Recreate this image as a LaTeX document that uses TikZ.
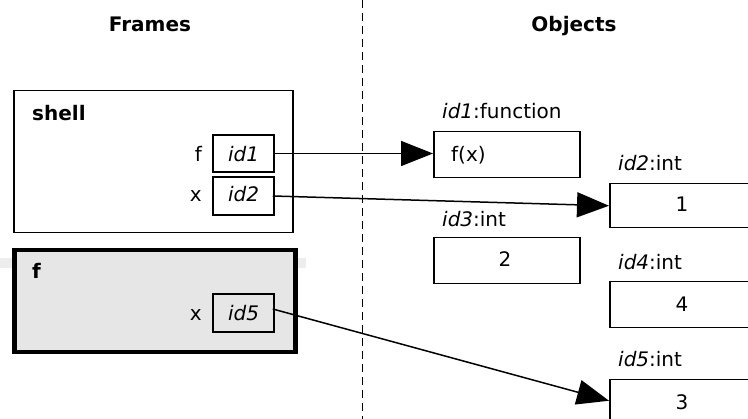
\documentclass[tikz,border=0pt]{standalone}
\usepackage{fontspec}
\setmainfont{DejaVu Sans}
\usetikzlibrary{arrows.meta}
\definecolor{framegray}{HTML}{E5E6E5}
\tikzset{
  txt/.style={inner sep=0pt, font=\fontsize{20}{24}\selectfont},
  hdr/.style={inner sep=0pt, font=\fontsize{20}{24}\selectfont\bfseries},
  refbox/.style={draw, line width=1.5pt, minimum width=61pt, minimum height=37pt, inner sep=0pt, font=\fontsize{20}{24}\selectfont\itshape},
  objbox/.style={draw, line width=1.5pt, minimum width=146pt, minimum height=46pt, inner sep=0pt, font=\fontsize{20}{24}\selectfont},
  conn/.style={line width=1.5pt, -{Triangle[length=32pt,width=25pt]}},
}
\begin{document}
\begin{tikzpicture}[x=1pt,y=-1pt]
\useasboundingbox (0,0) rectangle (748,419);
\clip (0,0) rectangle (748,419);
% headers
\node[hdr, anchor=base] (hframes) at (150,32) {Frames};
\node[hdr, anchor=base] (hobjects) at (574,32) {Objects};
% divider
\coordinate (dtop) at (362,0);
\coordinate (dbot) at (362,419);
\draw[line width=1pt, dash pattern=on 8pt off 5pt] (dtop) -- (dbot);
% shell frame
\node[draw, line width=1.5pt, minimum width=279pt, minimum height=142pt, inner sep=0pt, anchor=north west] (shell) at (13,90) {};
\node[hdr, anchor=base west] (shelllbl) at (32,121) {shell};
\node[txt, anchor=base east] (fl) at (202,162) {f};
\node[txt, anchor=base east] (xl) at (202,202) {x};
\node[refbox, minimum height=37pt] (r1) at (243.5,153.5) {};
\node[refbox, minimum height=38pt] (r2) at (243.5,196) {};
\node[txt, anchor=base, font=\fontsize{20}{24}\selectfont\itshape] (t1) at (243.5,162) {id1};
\node[txt, anchor=base, font=\fontsize{20}{24}\selectfont\itshape] (t2) at (243.5,202) {id2};
% f frame
\fill[black!7] (0,258) rectangle (306,268);
\node[draw, fill=framegray, line width=4.5pt, minimum width=281pt, minimum height=102pt, inner sep=0pt, anchor=north west] (fframe) at (12,248) {};
\node[hdr, anchor=base west] (flbl) at (32,279) {f};
\node[txt, anchor=base east] (xl5) at (202,321) {x};
\node[refbox, minimum height=38pt] (r5) at (243.5,313) {};
\node[txt, anchor=base, font=\fontsize{20}{24}\selectfont\itshape] (t5) at (243.5,321) {id5};
% objects
\node[txt, anchor=base west] (l1) at (442,119) {\textit{id1}:function};
\node[objbox, anchor=north west] (o1) at (433,131) {};
\node[txt, anchor=base west] (o1t) at (451,162) {f(x)};
\node[txt, anchor=base west] (l2) at (618,171) {\textit{id2}:int};
\node[objbox, anchor=north west, minimum height=44pt] (o2) at (609,183) {};
\node[txt, anchor=base] (o2t) at (682,212) {1};
\node[txt, anchor=base west] (l3) at (442,227) {\textit{id3}:int};
\node[objbox, anchor=north west] (o3) at (433,237) {};
\node[txt, anchor=base] (o3t) at (505,267) {2};
\node[txt, anchor=base west] (l4) at (618,270) {\textit{id4}:int};
\node[objbox, anchor=north west] (o4) at (609,281) {};
\node[txt, anchor=base] (o4t) at (682,312) {4};
\node[txt, anchor=base west] (l5) at (618,367) {\textit{id5}:int};
\node[objbox, anchor=north west] (o5) at (609,379) {};
\node[txt, anchor=base] (o5t) at (682,410) {3};
% connectors
\draw[conn] ([xshift=-2pt]r1.east) -- (o1.west |- r1.east);
\draw[conn] ([xshift=-2pt]r2.east) -- (o2.west);
\draw[conn] ([xshift=-2pt,yshift=4pt]r5.east) -- ([yshift=2pt]o5.west);
\end{tikzpicture}
\end{document}
